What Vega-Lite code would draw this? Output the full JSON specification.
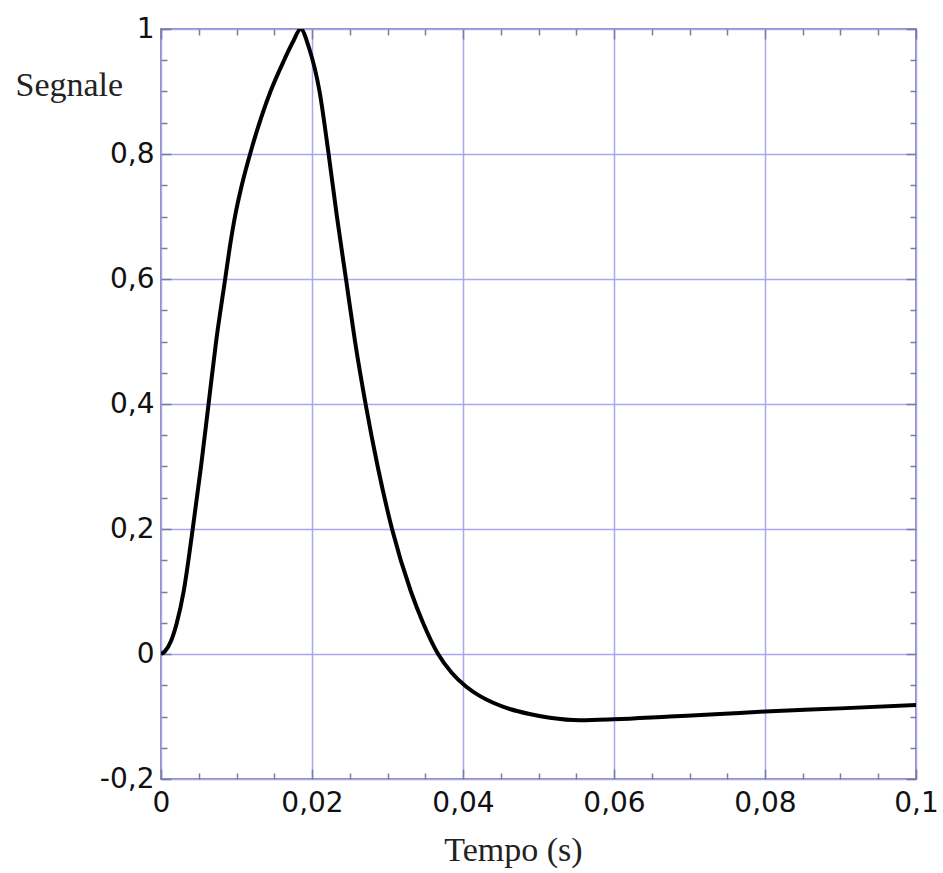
{
  "$schema": "https://vega.github.io/schema/vega-lite/v6.json",
  "autosize": {"type": "none"},
  "padding": {"left": 161, "top": 29, "right": 27, "bottom": 94},
  "width": 755,
  "height": 750,
  "background": "white",
  "config": {
    "view": {"stroke": "#8a8ab8", "strokeWidth": 2},
    "axis": {
      "labelFont": "DejaVu Sans",
      "labelFontSize": 28,
      "labelColor": "#111111",
      "titleFont": "Liberation Serif",
      "titleFontSize": 34,
      "titleFontWeight": "normal",
      "titleColor": "#222222",
      "domain": false,
      "tickColor": "#7a7aa8",
      "tickWidth": 1.5,
      "gridColor": "#a8a8f0",
      "gridWidth": 1.5,
      "labelOverlap": false,
      "labelFlush": false
    }
  },
  "data": {
    "values": [
      {"t": 0, "s": 0},
      {"t": 0.0005, "s": 0.004},
      {"t": 0.0013, "s": 0.02},
      {"t": 0.0021, "s": 0.05},
      {"t": 0.003, "s": 0.1},
      {"t": 0.0042, "s": 0.2},
      {"t": 0.0053, "s": 0.3},
      {"t": 0.0063, "s": 0.4},
      {"t": 0.0073, "s": 0.5},
      {"t": 0.0085, "s": 0.6},
      {"t": 0.0091, "s": 0.65},
      {"t": 0.0098, "s": 0.7},
      {"t": 0.0107, "s": 0.75},
      {"t": 0.0118, "s": 0.8},
      {"t": 0.0145, "s": 0.9},
      {"t": 0.0163, "s": 0.95},
      {"t": 0.0175, "s": 0.98},
      {"t": 0.0185, "s": 1.0},
      {"t": 0.0196, "s": 0.97},
      {"t": 0.021, "s": 0.9},
      {"t": 0.0222, "s": 0.8},
      {"t": 0.0233, "s": 0.7},
      {"t": 0.0245, "s": 0.6},
      {"t": 0.0257, "s": 0.5},
      {"t": 0.0271, "s": 0.4},
      {"t": 0.0287, "s": 0.3},
      {"t": 0.0306, "s": 0.2},
      {"t": 0.0331, "s": 0.1},
      {"t": 0.0347, "s": 0.05},
      {"t": 0.0367, "s": 0.0},
      {"t": 0.0385, "s": -0.03},
      {"t": 0.0404, "s": -0.052},
      {"t": 0.0422, "s": -0.067},
      {"t": 0.044, "s": -0.078},
      {"t": 0.0462, "s": -0.088},
      {"t": 0.0488, "s": -0.096},
      {"t": 0.0515, "s": -0.102},
      {"t": 0.0555, "s": -0.106},
      {"t": 0.06, "s": -0.1045},
      {"t": 0.0674, "s": -0.1},
      {"t": 0.074, "s": -0.096},
      {"t": 0.08, "s": -0.092},
      {"t": 0.09, "s": -0.087},
      {"t": 0.1, "s": -0.0816}
    ]
  },
  "layer": [
    {
      "mark": {"type": "line", "color": "black", "strokeWidth": 4, "interpolate": "monotone", "clip": true},
      "encoding": {
        "x": {
          "field": "t", "type": "quantitative",
          "scale": {"domain": [0, 0.1], "nice": false, "zero": false},
          "axis": {
            "orient": "bottom",
            "values": [0, 0.005, 0.01, 0.015, 0.02, 0.025, 0.03, 0.035, 0.04, 0.045, 0.05, 0.055, 0.06, 0.065, 0.07, 0.075, 0.08, 0.085, 0.09, 0.095, 0.1],
            "labelExpr": "abs(datum.value/0.02 - round(datum.value/0.02)) < 0.001 ? replace('' + datum.value, '.', ',') : ''",
            "tickSize": {"condition": {"test": "abs(datum.value/0.02 - round(datum.value/0.02)) < 0.001", "value": -10}, "value": -6},
            "gridOpacity": {"condition": {"test": "abs(datum.value/0.02 - round(datum.value/0.02)) < 0.001", "value": 1}, "value": 0},
            "labelPadding": 20,
            "title": "Tempo (s)",
            "titleX": 352,
            "titleY": 81,
            "titleAnchor": "middle",
            "titleAlign": "center",
            "titleBaseline": "alphabetic"
          }
        },
        "y": {
          "field": "s", "type": "quantitative",
          "scale": {"domain": [-0.2, 1], "nice": false, "zero": false},
          "axis": {
            "orient": "left",
            "values": [-0.2, -0.15, -0.1, -0.05, 0, 0.05, 0.1, 0.15, 0.2, 0.25, 0.3, 0.35, 0.4, 0.45, 0.5, 0.55, 0.6, 0.65, 0.7, 0.75, 0.8, 0.85, 0.9, 0.95, 1],
            "labelExpr": "abs(datum.value/0.2 - round(datum.value/0.2)) < 0.001 ? replace('' + datum.value, '.', ',') : ''",
            "tickSize": {"condition": {"test": "abs(datum.value/0.2 - round(datum.value/0.2)) < 0.001", "value": -10}, "value": -6},
            "gridOpacity": {"condition": {"test": "abs(datum.value/0.2 - round(datum.value/0.2)) < 0.001", "value": 1}, "value": 0},
            "labelPadding": 17,
            "title": "Segnale",
            "titleAngle": 0,
            "titleAlign": "left",
            "titleBaseline": "alphabetic",
            "titleX": -146,
            "titleY": 66
          }
        }
      }
    },
    {
      "mark": {"type": "line", "strokeOpacity": 0},
      "encoding": {
        "x": {
          "field": "t", "type": "quantitative",
          "axis": {
            "orient": "top",
            "values": [0, 0.005, 0.01, 0.015, 0.02, 0.025, 0.03, 0.035, 0.04, 0.045, 0.05, 0.055, 0.06, 0.065, 0.07, 0.075, 0.08, 0.085, 0.09, 0.095, 0.1],
            "labels": false,
            "grid": false,
            "title": null,
            "tickSize": {"condition": {"test": "abs(datum.value/0.02 - round(datum.value/0.02)) < 0.001", "value": -10}, "value": -6}
          }
        },
        "y": {
          "field": "s", "type": "quantitative",
          "axis": {
            "orient": "right",
            "values": [-0.2, -0.15, -0.1, -0.05, 0, 0.05, 0.1, 0.15, 0.2, 0.25, 0.3, 0.35, 0.4, 0.45, 0.5, 0.55, 0.6, 0.65, 0.7, 0.75, 0.8, 0.85, 0.9, 0.95, 1],
            "labels": false,
            "grid": false,
            "title": null,
            "tickSize": {"condition": {"test": "abs(datum.value/0.2 - round(datum.value/0.2)) < 0.001", "value": -10}, "value": -6}
          }
        }
      }
    }
  ],
  "resolve": {"axis": {"x": "independent", "y": "independent"}}
}
